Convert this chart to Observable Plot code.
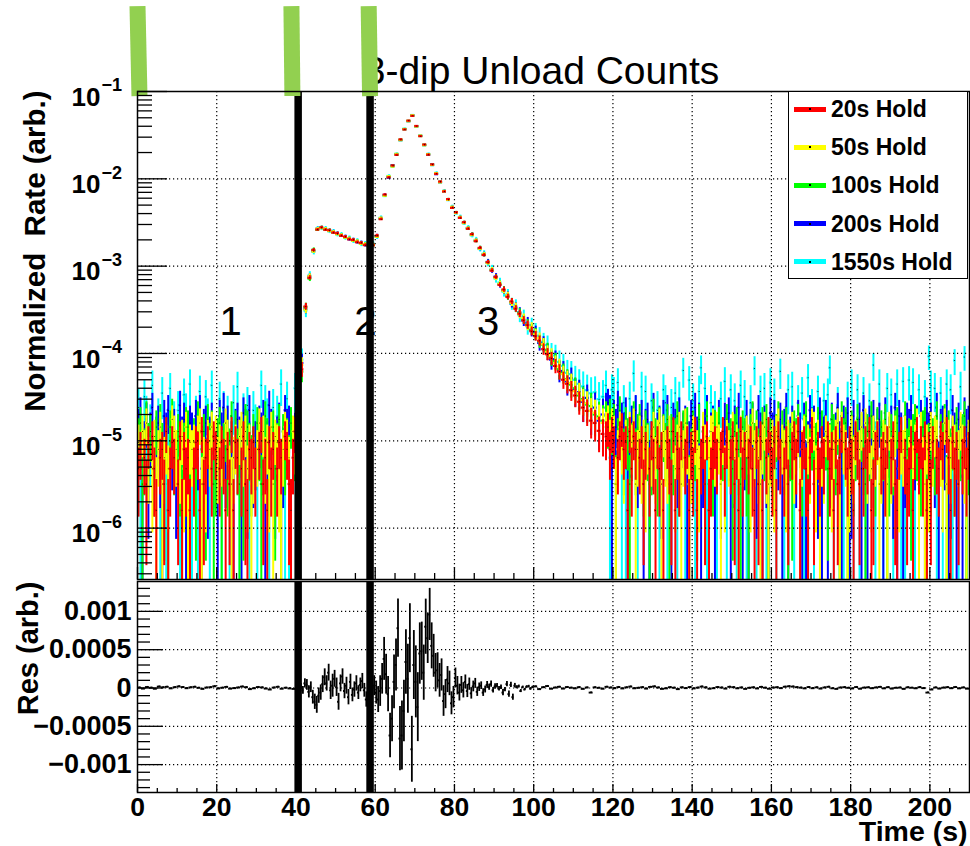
<!DOCTYPE html>
<html><head><meta charset="utf-8">
<script src="https://cdn.jsdelivr.net/npm/d3@7"></script>
<script src="https://cdn.jsdelivr.net/npm/@observablehq/plot@0.6"></script>
<style>
body{margin:0;background:#fff;}
#wrap{position:relative;width:970px;height:846px;overflow:hidden;font-family:"Liberation Sans",Arial,sans-serif;}
#wrap svg{display:block;}
#legend{position:absolute;left:788px;top:91px;width:178px;height:186px;border:1.5px solid #000;background:#fff;}
#legend .row{position:absolute;left:0;height:0;}
#legend .sw{position:absolute;left:5px;top:-2.5px;width:32px;height:5px;}
#legend .sw i{position:absolute;left:15px;top:1.5px;width:2px;height:2px;background:#000;}
#legend .lb{position:absolute;left:42px;top:0;transform:translateY(-50%);font:bold 23px "Liberation Sans",Arial,sans-serif;white-space:nowrap;line-height:1;color:#000;}
</style></head><body><div id="wrap"></div>
<script>
// ---------------- data ----------------
const chartTitle = "3-dip Unload Counts";
const seriesNames = ["20s Hold", "50s Hold", "100s Hold", "200s Hold", "1550s Hold"];
const seriesColors = ["#ff0000", "#ffff00", "#00ff00", "#0000ff", "#00ffff"];
// statistical weight of one count (sets the Poisson error bar size)
const countUnit = [2.5e-6, 3.2e-6, 4e-6, 5e-6, 9e-6];

// background rates per 0.5 s bin, one character per bin:
// value = (index of the character in bgCodes) × bgCodeUnit; "0" = empty bin
const bgCodes = "0123456789abcdefghijklmnopqrstuvwxyzABCDEFGHIJKLMNOPQRSTUVWXYZ";
const bgCodeUnit = 1.6e-6;
// 0–40 s
const bgEarly = [
  "35042607310452813640271534103651824603750364152816403721546305824163503640752148",
  "6085a403725924630b8504739265608a243759084650a732460795836240 5a084639276325974086".replace(/ /g, ""),
  "7a25c680490b63729d508426a95073c0583b69247a26845c095273b96480a625c740936b28574a06",
  "9d36b48f07a53c8e06940g7b35a80c6e39a47b053c8f5a0639b73d94e0560a8c36g9047b35e9a068",
  "f40kc09r00b5m048p0a0e30ld0s40c5n00kb4r000j5e0c30h0q40d0g50e930r0hb40f0c0s05j400p"
];
// 118–210 s
const bgLate = [
  "7958604795618375046250374163510642815370461538104627135640583604725183504631627104853617403620574815631482053640735162480536417520364812570453604721580423615846371526043750841635204635",
  "9b7a8259647096a258473605947a285480736925a6248753096048a59627375094628508 63a574269425738a065370946825 8064a937254806357a296523847059 0a463857247629458036 5804736a294263958705 3a274860596427".replace(/ /g, ""),
  "cad9b27e85a726c58b049625d74a086b2857c4097a25963b085c27498a060b6738a5297428c6950a6b27548c095a26397b048c25746a090736b8592c7a25946b085286c74a096b24859a070c5738b6249a26475c086b29574a068c25",
  "fhe3c9g0b8d37a0e58c39b36f08a4c0e73b95d08a36c0f7b359e08a36c40b8d35a0f736c39b04e83a53d8c06b39f37a05c83b36e9a04d37c35b08f63a9d34c07b3e83a5c09b63d07a4f3c835b9e06a3c73d8b05f39a6c34e83b73d9a",
  "r04om0t05h30j0Bc40q0n05i00e30oh40f0m5j0E30v0i40nH0p50h0e30j0u40o0i50r0k30h0G40n0p50t0l30D040o0q50h0m30x0f40n05i0lH030g4050j0s40o30m40i0K50s030p0l40s05u40v0t30o00k5Wr0p40m30s0o5Q04q0V30"
];
// normalized rate (×1e-6) per 1 s bin, 40–118 s
const sigRed = [16,66,345,735,1530,2620,2780,2610,2580,2420,
  2380,2230,2170,2030,2000,1880,1850,1740,1720,1730,
  2240,3450,6600,10400,14200,18800,28300,36700,46400,52600,
  40300,30800,24700,18900,14600,11400,9300,7150,5850,4650,
  4130,3570,3180,2680,2320,1930,1620,1340,1110,890,
  750,610,540,445,395,325,285,240,212,180,
  158,140,112,98,88,72,62,50,45,38,
  33,28,24,22,17,16,13,12];
const sigYellow = [21,74,318,770,1470,2680,2720,2680,2520,2470,
  2320,2270,2130,2070,1960,1920,1810,1780,1690,1770,
  2170,3560,6400,10700,13800,19300,27700,37300,45600,53400,
  39700,31300,24200,19200,14400,11600,9100,7260,5740,4760,
  4060,3640,3110,2730,2270,1980,1580,1370,1090,910,
  730,630,520,465,380,345,280,255,208,200,
  165,150,128,104,96,78,71,58,50,46,
  37,35,29,27,22,21,18,16];
const sigGreen = [24,62,340,720,1540,2610,2760,2630,2570,2440,
  2340,2260,2140,2060,1970,1910,1820,1770,1700,1740,
  2190,3480,6450,10600,14100,18900,28100,36900,46200,52900,
  40100,30900,24600,19100,14500,11500,9250,7180,5820,4690,
  4110,3590,3160,2690,2310,1940,1610,1350,1100,905,
  745,625,535,450,388,330,292,246,215,188,
  168,138,126,110,90,82,66,60,51,44,
  40,33,30,26,25,20,19,17];
const sigBlue = [22,78,325,760,1490,2670,2740,2660,2540,2460,
  2360,2240,2160,2040,1990,1890,1840,1750,1710,1760,
  2210,3520,6550,10300,14300,19100,27800,37100,45800,53200,
  39900,31100,24400,18800,14700,11300,9150,7230,5780,4720,
  4080,3610,3130,2720,2290,1960,1590,1360,1120,895,
  760,615,525,460,375,340,296,238,225,185,
  176,132,130,106,85,86,64,63,48,52,
  38,36,28,31,22,24,17,20];
const sigCyan = [30,85,310,780,1460,2690,2710,2690,2510,2480,
  2310,2280,2120,2080,1950,1930,1800,1790,1680,1780,
  2160,3580,6350,10800,13700,19400,27500,37500,45400,53800,
  39600,31400,24100,19300,14300,11700,9050,7290,5710,4790,
  4030,3660,3090,2760,2250,2000,1570,1390,1080,930,
  720,650,510,475,370,355,275,265,205,210,
  180,160,135,125,100,95,80,72,60,58,
  50,45,42,38,35,36,30,32];
const sigValues = [sigRed, sigYellow, sigGreen, sigBlue, sigCyan];

// residuals (×1e-6)
const resEarly = [5,-8,12,3,-10,18,8,15,-5,10,20,12,-3,8,15,2,-12,5,10,22,
  -6,3,14,-9,-2,6,18,10,-15,-4,12,7,-8,-20,5,15,-10,3,-6,-12];          // 1 s bins, 0–40 s
const resMid = [5,-10,20,-30,60,40,-50,10,-120,-180,
  -220,-100,-60,50,140,60,200,-30,30,120,
  10,-180,60,150,-40,30,-120,80,-90,-20,
  60,-60,40,90,-30,-150,-80,60,-100,30,
  -60,-150,-40,120,380,180,-80,-620,-400,80,
  300,780,-660,-620,-300,340,120,650,-800,300,
  80,-250,450,480,200,800,650,960,550,420,
  200,230,100,170,-170,-80,110,60,-200,-120,
  130,30,-60,40,-30,80,-40,50,-70,20,
  60,-50,10,30,-60,-20,40,10,50,-30,
  20,30,-10,10,-60,-20,50,-80,40,-120,
  30,10,20,-40,10,-20,15,20,-10,10];                                    // 0.5 s bins, 40–100 s
const resMidErr = [20,30,40,50,60,70,80,70,90,100,
  110,100,100,110,110,100,110,120,150,110,
  120,110,110,100,100,110,100,100,90,100,
  100,90,90,100,90,100,100,120,110,130,
  150,170,200,200,280,260,230,290,300,350,
  340,380,420,450,400,420,450,450,430,450,
  470,450,400,380,360,360,330,340,300,280,
  250,230,220,210,200,190,170,160,150,140,
  130,120,110,110,100,90,85,80,75,70,
  65,60,55,50,50,45,45,40,40,35,
  35,30,30,30,40,28,35,40,35,40,
  30,20,18,20,15,15,15,15,15,15];
const resLate = [20,-15,10,25,-10,5,15,-8,12,3,-5,10,-12,6,-60,8,2,-10,15,5,
  -3,12,-6,8,18,-4,2,10,-8,14,20,6,-12,-5,10,3,-15,8,-2,12,
  -6,4,18,7,-10,-3,12,5,-8,15,10,-4,6,-12,2,8,-6,14,3,-10,
  5,9,-2,16,22,18,10,4,-5,12,-3,8,-8,6,15,-4,-12,5,10,2,
  -6,12,-10,4,8,-3,6,14,-5,10,-8,2,5,-12,8,3,-4,10,-2,-60,
  -20,6,-8,4,10,-3,12,-5,6,-9];                                         // 1 s bins, 100–210 s
const resFlatErr = 8;

// annotations
const regionLabels = ["1", "2", "3"];
const regionLabelT = [23.5, 57.5, 88.5];
const regionLabelY = 2.29e-4;
const dividerT = [40.55, 58.7];
const markerBarTopT = [0.0, 38.85, 58.35];
const markerBarBottomT = [0.5, 39.1, 58.7];
const markerBarTopY = 0.95, markerBarBottomY = 0.0888;

// axes
const xDomain = [0, 210];
const yMin = 2.58e-7, yMax = 0.1;
const resDomain = [-1.364e-3, 1.39e-3];
const yDecades = [1e-6, 1e-5, 1e-4, 1e-3, 1e-2, 1e-1];
const xMajor = [0, 20, 40, 60, 80, 100, 120, 140, 160, 180, 200];
const resMajor = [-0.001, -0.0005, 0, 0.0005, 0.001];

// ---------------- derived tables ----------------
const yMinor = [];
for (let e = -7; e <= -2; e++) for (let m = 2; m <= 9; m++) { const v = m * Math.pow(10, e); if (v >= yMin && v < yMax) yMinor.push(v); }
const xMinor = d3.range(5, 210, 5).filter(d => d % 20 !== 0);
const resMinor = d3.range(-13, 14).filter(d => d % 5 !== 0).map(d => d * 1e-4);

function seriesRows(s) {
  const k = countUnit[s], rows = [];
  const bg = (str, t0, nBins) => str.split("").slice(0, nBins).forEach((c, i) => {
    const v = bgCodes.indexOf(c) * bgCodeUnit;
    if (v > 0) rows.push({t: t0 + 0.25 + 0.5 * i, w: 0.25, v, e: Math.sqrt(v * k)});
  });
  bg(bgEarly[s], 0, 80);
  sigValues[s].forEach((u, i) => { const v = u * 1e-6; rows.push({t: 40.5 + i, w: 0.5, v, e: Math.sqrt(v * k)}); });
  bg(bgLate[s], 118, 184);
  return rows;
}
const resRows = [];
resEarly.forEach((v, i) => resRows.push({t: i + 0.5, w: 0.5, v: v * 1e-6, e: resFlatErr * 1e-6}));
resMid.forEach((v, i) => resRows.push({t: 40.25 + 0.5 * i, w: 0.25, v: v * 1e-6, e: resMidErr[i] * 1e-6}));
resLate.forEach((v, i) => resRows.push({t: 100.5 + i, w: 0.5, v: v * 1e-6, e: resFlatErr * 1e-6}));

const markerBars = markerBarTopT.map((t, i) => ({x1: t, x2: markerBarBottomT[i], y1: markerBarTopY, y2: markerBarBottomY}));

const gridStyle = {stroke: "#000", strokeOpacity: 1, strokeWidth: 1.2, strokeDasharray: "1.2,2.8"};
const font = '"Liberation Sans", Arial, sans-serif';

// ---------------- top panel ----------------
const drawOrder = [4, 3, 2, 1, 0];
const topMarks = [
  Plot.text([chartTitle], {frameAnchor: "top", lineAnchor: "bottom", dx: -12, dy: -8, fontSize: 39, fill: "#000"})
];
drawOrder.forEach(s => {
  const rows = seriesRows(s);
  const col = seriesColors[s];
  topMarks.push(
    Plot.ruleX(rows, {x: "t", y1: d => Math.max(d.v - d.e, yMin), y2: d => d.v + d.e, stroke: col, strokeWidth: 2, clip: true}),
    Plot.ruleY(rows, {y: "v", x1: d => d.t - d.w, x2: d => d.t + d.w, stroke: col, strokeWidth: 2.2, clip: true}),
    Plot.dot(rows, {x: "t", y: "v", r: 0.5, fill: "#000", stroke: "none", clip: true})
  );
});
topMarks.push(
  Plot.gridX(xMajor.filter(d => d > 0), gridStyle),
  Plot.gridY(yDecades.filter(d => d < yMax), gridStyle),
  Plot.text(regionLabels, {x: (d, i) => regionLabelT[i], y: () => regionLabelY, text: d => d, fontSize: 40, fill: "#000"}),
  Plot.ruleX(dividerT, {stroke: "#000", strokeWidth: 7.5}),
  Plot.link(markerBars, {x1: "x1", y1: "y1", x2: "x2", y2: "y2", stroke: "#92d050", strokeWidth: 16}),
  Plot.frame({stroke: "#000", strokeWidth: 1.5}),
  Plot.axisY(yDecades, {anchor: "left", tickSize: -30, tickFormat: () => "", label: null, strokeWidth: 1.3}),
  Plot.axisY(yMinor, {anchor: "left", tickSize: -15, tickFormat: () => "", label: null, strokeWidth: 1.3}),
  Plot.axisX(xMajor, {anchor: "bottom", tickSize: -12, tickFormat: () => "", label: null, strokeWidth: 1.3}),
  Plot.axisX(xMinor, {anchor: "bottom", tickSize: -6, tickFormat: () => "", label: null, strokeWidth: 1.3}),
  Plot.text(yDecades, {y: d => d, frameAnchor: "left", text: () => "10", textAnchor: "end", dx: -37, dy: 6, fontSize: 26, fontWeight: "bold", fill: "#000"}),
  Plot.text(yDecades, {y: d => d, frameAnchor: "left", text: d => "\u2212" + (-Math.round(Math.log10(d))), textAnchor: "start", dx: -36, dy: -6, fontSize: 18, fontWeight: "bold", fill: "#000"}),
  Plot.text(["Normalized\u00a0 Rate (arb.)"], {frameAnchor: "top-left", rotate: -90, textAnchor: "end", lineAnchor: "bottom", dx: -93, dy: -1, fontSize: 29.5, fontWeight: "bold", fill: "#000"})
);

const topPlot = Plot.plot({
  width: 970, height: 580,
  marginTop: 91, marginBottom: 1, marginLeft: 137, marginRight: 1,
  style: {fontFamily: font, background: "#fff", overflow: "visible"},
  x: {domain: xDomain, axis: null, label: null},
  y: {type: "log", domain: [yMin, yMax], axis: null, label: null},
  marks: topMarks
});

// ---------------- residual panel ----------------
const bottomPlot = Plot.plot({
  width: 970, height: 266,
  marginTop: 1, marginBottom: 54, marginLeft: 137, marginRight: 1,
  style: {fontFamily: font, background: "#fff", overflow: "visible"},
  x: {domain: xDomain, axis: null, label: null},
  y: {domain: resDomain, axis: null, label: null},
  marks: [
    Plot.ruleX(resRows, {x: "t", y1: d => d.v - d.e, y2: d => d.v + d.e, stroke: "#000", strokeWidth: 1.8, clip: true}),
    Plot.ruleY(resRows, {y: "v", x1: d => d.t - d.w, x2: d => d.t + d.w, stroke: "#000", strokeWidth: 1.9, clip: true}),
    Plot.gridX(xMajor.filter(d => d > 0), gridStyle),
    Plot.gridY(resMajor, gridStyle),
    Plot.ruleX(dividerT, {stroke: "#000", strokeWidth: 7.5}),
    Plot.frame({stroke: "#000", strokeWidth: 1.5}),
    Plot.axisY(resMajor, {anchor: "left", tickSize: -26, tickFormat: () => "", label: null, strokeWidth: 1.3}),
    Plot.axisY(resMinor, {anchor: "left", tickSize: -13, tickFormat: () => "", label: null, strokeWidth: 1.3}),
    Plot.axisX(xMajor, {anchor: "bottom", tickSize: -8, tickFormat: () => "", label: null, strokeWidth: 1.3}),
    Plot.axisX(xMinor, {anchor: "bottom", tickSize: -4, tickFormat: () => "", label: null, strokeWidth: 1.3}),
    Plot.text(resMajor, {y: d => d, frameAnchor: "left", text: d => d === 0 ? "0" : (d < 0 ? "\u2212" : "") + String(Math.abs(d)), textAnchor: "end", dx: -6, fontSize: 27, fontWeight: "bold", fill: "#000"}),
    Plot.text(xMajor, {x: d => d, frameAnchor: "bottom", text: d => String(d), lineAnchor: "top", dy: 5, fontSize: 26.5, fontWeight: "bold", fill: "#000"}),
    Plot.text(["Time (s)"], {frameAnchor: "bottom-right", textAnchor: "end", lineAnchor: "bottom", dx: -2, dy: 48, fontSize: 28.5, fontWeight: "bold", fill: "#000"}),
    Plot.text(["Res (arb.)"], {frameAnchor: "top-left", rotate: -90, textAnchor: "end", lineAnchor: "bottom", dx: -100, dy: 0, fontSize: 29, fontWeight: "bold", fill: "#000"})
  ]
});

const wrap = document.getElementById("wrap");
wrap.appendChild(topPlot);
wrap.appendChild(bottomPlot);

// legend
const legend = document.createElement("div");
legend.id = "legend";
seriesNames.forEach((name, i) => {
  const row = document.createElement("div");
  row.className = "row";
  row.style.top = (17 + 38.2 * i) + "px";
  row.innerHTML = `<span class="sw" style="background:${seriesColors[i]}"><i></i></span><span class="lb">${name}</span>`;
  legend.appendChild(row);
});
wrap.appendChild(legend);
</script></body></html>
